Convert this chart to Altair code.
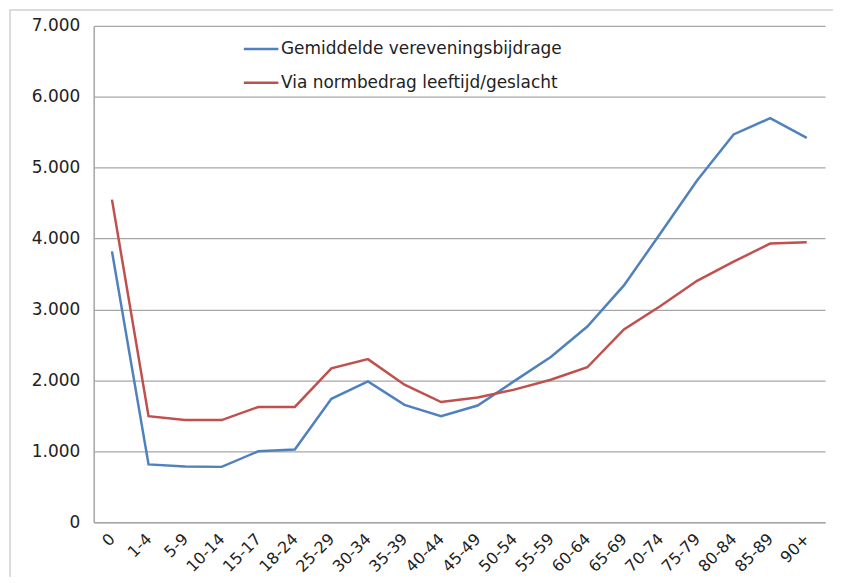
import altair as alt
import pandas as pd

categories = ["0", "1-4", "5-9", "10-14", "15-17", "18-24", "25-29", "30-34", "35-39",
              "40-44", "45-49", "50-54", "55-59", "60-64", "65-69", "70-74", "75-79",
              "80-84", "85-89", "90+"]
gemiddelde = [3820, 815, 785, 780, 1000, 1025, 1740, 1985, 1655, 1495, 1645, 1990,
              2330, 2760, 3340, 4075, 4820, 5470, 5700, 5420]
normbedrag = [4550, 1495, 1440, 1440, 1625, 1625, 2170, 2300, 1940, 1695, 1760, 1870,
              2010, 2185, 2720, 3050, 3405, 3675, 3930, 3950]
series_names = ["Gemiddelde vereveningsbijdrage", "Via normbedrag leeftijd/geslacht"]
colors = ["#4F81BD", "#C0504D"]

rows = []
for s, vals in zip(series_names, [gemiddelde, normbedrag]):
    for c, v in zip(categories, vals):
        rows.append({"leeftijd": c, "waarde": v, "reeks": s})
df = pd.DataFrame(rows)

FONT = "DejaVu Sans"

lines = alt.Chart(df).mark_line(strokeWidth=2.5).encode(
    x=alt.X("leeftijd:N", sort=categories, title=None,
            scale=alt.Scale(paddingOuter=0.5),
            axis=alt.Axis(labelAngle=-45, labelAlign="right", labelBaseline="middle",
                          labelFontSize=16, labelColor="#222", labelPadding=14,
                          ticks=False, domainColor="#a6a6a6", domainWidth=1.5,
                          grid=False, labelFont=FONT)),
    y=alt.Y("waarde:Q", title=None,
            scale=alt.Scale(domain=[0, 7000], nice=False),
            axis=alt.Axis(values=[0, 1000, 2000, 3000, 4000, 5000, 6000, 7000],
                          labelExpr="replace(format(datum.value, ','), ',', '.')",
                          labelFontSize=17, labelColor="#222", labelPadding=14,
                          ticks=False, domainColor="#a6a6a6", domainWidth=1.5,
                          gridColor="#a6a6a6", gridWidth=1.2, labelFont=FONT)),
    color=alt.Color("reeks:N", sort=series_names,
                    scale=alt.Scale(domain=series_names, range=colors),
                    legend=alt.Legend(title=None, orient="none", legendX=149, legendY=4,
                                      symbolType="stroke", symbolSize=1200,
                                      symbolStrokeWidth=2.5, labelFontSize=17,
                                      labelFont=FONT, labelColor="#222", labelLimit=500,
                                      labelOffset=1, rowPadding=7)),
)

border_df = pd.DataFrame({"b": [1]})
border = alt.Chart(border_df).mark_rect(fill=None, stroke="#d0d0d0", strokeWidth=1.5).encode(
    x=alt.value(-84), x2=alt.value(744), y=alt.value(-16), y2=alt.value(580)
)

chart = alt.layer(border, lines).properties(
    width=734, height=498,
    padding={"left": 86, "top": 17, "right": 8, "bottom": 54},
    autosize=alt.AutoSizeParams(type="none"),
    background="white",
).configure_view(stroke=None)

chart.save("out.html", embed_options={"renderer": "svg", "actions": False})
